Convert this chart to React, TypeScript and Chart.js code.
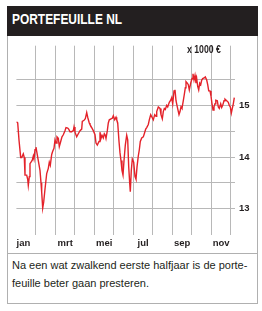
import React, { useEffect, useRef } from 'react';
import { Chart, registerables } from 'chart.js';

Chart.register(...registerables);

// position in months since 1 january (0 = 1 jan, 1 = 1 feb, ...)
const monthPos = [
  0, 0.067, 0.133, 0.22, 0.272, 0.354, 0.405, 0.441, 0.528, 0.579, 0.61, 0.662, 0.697, 0.749, 0.815,
  0.867, 0.903, 0.954, 1.005, 1.041, 1.123, 1.21, 1.262, 1.297, 1.349, 1.4, 1.467, 1.554, 1.636, 1.687,
  1.738, 1.81, 1.862, 1.928, 1.979, 2.031, 2.082, 2.149, 2.2, 2.272, 2.338, 2.405, 2.492, 2.544, 2.631,
  2.682, 2.749, 2.836, 2.918, 2.954, 3.005, 3.092, 3.174, 3.262, 3.349, 3.379, 3.467, 3.533, 3.605, 3.656,
  3.738, 3.774, 3.862, 3.944, 4.031, 4.082, 4.149, 4.236, 4.287, 4.338, 4.39, 4.456, 4.508, 4.559, 4.595,
  4.662, 4.713, 4.764, 4.851, 4.918, 4.969, 5.041, 5.108, 5.144, 5.195, 5.262, 5.313, 5.364, 5.415, 5.467,
  5.518, 5.585, 5.656, 5.708, 5.759, 5.81, 5.841, 5.892, 5.944, 6.015, 6.082, 6.133, 6.185, 6.251, 6.303,
  6.354, 6.426, 6.508, 6.559, 6.631, 6.682, 6.764, 6.815, 6.887, 6.954, 7.021, 7.092, 7.159, 7.195, 7.277,
  7.364, 7.415, 7.482, 7.533, 7.585, 7.636, 7.708, 7.759, 7.841, 7.913, 7.964, 8.015, 8.082, 8.133, 8.185,
  8.251, 8.338, 8.39, 8.441, 8.492, 8.559, 8.61, 8.662, 8.697, 8.764, 8.815, 8.867, 8.938, 9.005, 9.056,
  9.108, 9.159, 9.21, 9.246, 9.297, 9.349, 9.4, 9.451, 9.503, 9.554, 9.621, 9.687, 9.759, 9.81, 9.862,
  9.928, 9.979, 10.031, 10.082, 10.133, 10.185, 10.226, 10.303, 10.354, 10.405, 10.477, 10.528, 10.579, 10.646, 10.697,
  10.785, 10.867, 10.918, 10.969, 11.021, 11.072, 11.123, 11.174,
];

// portfolio value, x 1000 euro
const values = [
  14.68, 14.66, 14.33, 13.99, 13.99, 14.06, 13.99, 13.65, 13.65, 13.57, 13.45, 13.62, 13.87, 13.9, 13.94,
  14.02, 13.96, 14.14, 14.19, 14.11, 13.93, 13.74, 13.5, 13.32, 13.01, 13.13, 13.38, 13.68, 13.78, 13.9,
  13.84, 14.05, 14.11, 14.17, 14.33, 14.27, 14.39, 14.36, 14.2, 14.3, 14.39, 14.43, 14.51, 14.57, 14.56,
  14.54, 14.49, 14.49, 14.51, 14.58, 14.48, 14.39, 14.45, 14.51, 14.54, 14.69, 14.71, 14.74, 14.86, 14.77,
  14.66, 14.63, 14.57, 14.51, 14.43, 14.27, 14.23, 14.3, 14.48, 14.36, 14.42, 14.37, 14.45, 14.42, 14.36,
  14.51, 14.66, 14.72, 14.74, 14.75, 14.8, 14.72, 14.77, 14.72, 14.66, 14.3, 14.08, 13.93, 13.74, 13.65,
  13.93, 14.23, 14.42, 14.33, 13.81, 13.5, 13.33, 13.74, 13.96, 13.9, 13.62, 13.57, 13.81, 14.02, 14.14,
  14.3, 14.37, 14.39, 14.45, 14.54, 14.57, 14.63, 14.72, 14.82, 14.77, 14.72, 14.82, 14.79, 14.88, 14.97,
  14.94, 14.82, 14.74, 14.88, 14.94, 14.92, 15.0, 14.97, 15.06, 15.1, 15.15, 15.03, 15.28, 15.3, 15.09,
  14.97, 14.82, 14.88, 14.97, 14.94, 15.09, 15.21, 15.34, 15.46, 15.43, 15.4, 15.3, 15.43, 15.52, 15.61,
  15.49, 15.58, 15.43, 15.52, 15.37, 15.3, 15.43, 15.4, 15.49, 15.52, 15.53, 15.55, 15.49, 15.4, 15.28,
  15.28, 15.18, 15.03, 14.91, 14.97, 15.03, 15.1, 15.09, 14.97, 14.94, 15.03, 14.96, 15.0, 15.09, 15.12,
  15.09, 15.06, 15.0, 14.97, 14.85, 14.94, 15.03, 15.15,
];

const monthLabels = ['jan', 'mrt', 'mei', 'jul', 'sep', 'nov'];
const monthLabelPos = [0.36, 2.5, 4.5, 6.5, 8.5, 10.5];
const monthGrid = [1, 2, 3, 4, 5, 6, 7, 8, 9, 10, 11];
const yGrid = [13, 13.5, 14, 14.5, 15, 15.5];
const X_MIN = 0;
const X_MAX = 11.21;
const Y_MIN = 12.49;
const Y_MAX = 16.155;

const BOLD = "'Liberation Sans', Arial, sans-serif";
const REGULAR = "'Liberation Sans', Arial, sans-serif";
const GRID = '#b8b8b8';
const BORDER = '#b0b0b0';
const INK = '#231f20';

function PortfolioChart() {
  const ref = useRef<HTMLCanvasElement | null>(null);
  useEffect(() => {
    if (!ref.current) return;
    const chart = new Chart(ref.current, {
      type: 'line',
      data: {
        datasets: [
          {
            data: monthPos.map((m, i) => ({ x: m, y: values[i] })),
            borderColor: '#e4222a',
            borderWidth: 1.4,
            pointRadius: 0,
            tension: 0,
            fill: false,
            xAxisID: 'x',
            yAxisID: 'y',
          },
        ],
      },
      options: {
        animation: false,
        responsive: true,
        maintainAspectRatio: false,
        events: [],
        layout: { padding: { left: 8.4, right: 0, top: 0, bottom: 0 } },
        plugins: { legend: { display: false }, tooltip: { enabled: false }, title: { display: false } },
        scales: {
          x: {
            type: 'linear',
            position: 'bottom',
            min: X_MIN,
            max: X_MAX,
            weight: 1,
            afterBuildTicks: (axis: any) => {
              axis.ticks = monthGrid.map((v) => ({ value: v }));
            },
            afterFit: (axis: any) => {
              axis.height = 0;
            },
            ticks: { display: false },
            grid: { color: GRID, lineWidth: 1, drawTicks: false },
            border: { display: false },
          },
          x2: {
            type: 'linear',
            position: 'bottom',
            min: X_MIN,
            max: X_MAX,
            weight: 0,
            afterBuildTicks: (axis: any) => {
              axis.ticks = monthLabelPos.map((v) => ({ value: v }));
            },
            afterFit: (axis: any) => {
              axis.height = 18;
            },
            ticks: {
              autoSkip: false,
              maxRotation: 0,
              minRotation: 0,
              padding: 3,
              color: INK,
              font: { family: BOLD, size: 9.5, weight: 'bold' },
              callback: (_v: any, i: number) => monthLabels[i],
            },
            grid: { display: false, drawTicks: false },
            border: { display: false },
          },
          y: {
            type: 'linear',
            position: 'right',
            min: Y_MIN,
            max: Y_MAX,
            afterBuildTicks: (axis: any) => {
              axis.ticks = yGrid.map((v) => ({ value: v }));
            },
            afterFit: (axis: any) => {
              axis.width = 21;
            },
            ticks: {
              autoSkip: false,
              padding: 4,
              color: INK,
              font: { family: BOLD, size: 9.5, weight: 'bold' },
              callback: (v: any) => (Number.isInteger(Number(v)) ? String(v) : ''),
            },
            grid: { color: GRID, lineWidth: 1, drawTicks: false },
            border: { display: false },
          },
        },
      },
    } as any);
    return () => chart.destroy();
  }, []);
  return <canvas ref={ref} />;
}

export default function App() {
  return (
    <div
      style={{
        position: 'absolute',
        left: 0,
        top: 0,
        width: 262,
        height: 311,
        background: '#ffffff',
        overflow: 'hidden',
      }}
    >
      <div
        style={{
          position: 'absolute',
          left: 7,
          top: 6,
          width: 251,
          height: 30,
          background: INK,
        }}
      />
      <span
        style={{
          position: 'absolute',
          left: 12,
          top: 11,
          lineHeight: '15px',
          fontFamily: BOLD,
          fontWeight: 'bold',
          fontSize: 15.5,
          color: '#ffffff',
          whiteSpace: 'nowrap',
          transform: 'scaleX(0.77)',
          transformOrigin: 'left center',
        }}
      >
        PORTEFEUILLE NL
      </span>
      <div
        style={{
          position: 'absolute',
          left: 7,
          top: 36,
          width: 251,
          height: 218,
          boxSizing: 'border-box',
          borderLeft: `1px solid ${BORDER}`,
          borderRight: `1px solid ${BORDER}`,
        }}
      />
      <div style={{ position: 'absolute', left: 8, top: 36, width: 248, height: 217 }}>
        <PortfolioChart />
      </div>
      <span
        style={{
          position: 'absolute',
          left: 187,
          top: 44,
          lineHeight: '12px',
          fontFamily: BOLD,
          fontWeight: 'bold',
          fontSize: 10,
          color: INK,
          whiteSpace: 'nowrap',
          transform: 'scaleX(0.87)',
          transformOrigin: 'left center',
        }}
      >
        x 1000 €
      </span>
      <div
        style={{
          position: 'absolute',
          left: 7,
          top: 253,
          width: 251,
          height: 51,
          boxSizing: 'border-box',
          border: `1px solid ${BORDER}`,
        }}
      />
      <div
        style={{
          position: 'absolute',
          left: 12,
          top: 257,
          width: 244,
          lineHeight: '17.5px',
          fontFamily: REGULAR,
          fontSize: 11,
          color: INK,
          whiteSpace: 'nowrap',
        }}
      >
        Na een wat zwalkend eerste halfjaar is de porte-
        <br />
        feuille beter gaan presteren.
      </div>
    </div>
  );
}
